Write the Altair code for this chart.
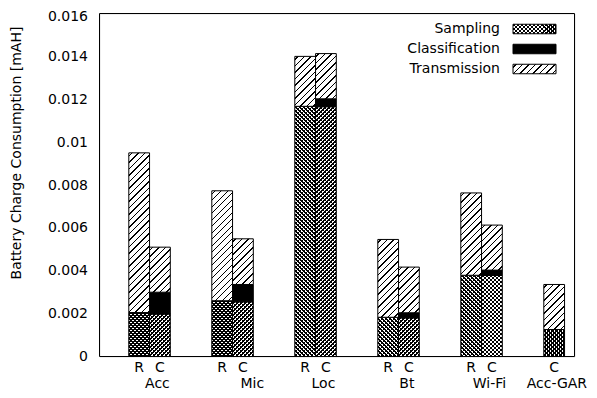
import altair as alt
import pandas as pd

# ---------------- data ----------------
groups = ["Acc", "Mic", "Loc", "Bt", "Wi-Fi", "Acc-GAR"]
bar_group = ["Acc", "Acc", "Mic", "Mic", "Loc", "Loc", "Bt", "Bt", "Wi-Fi", "Wi-Fi", "Acc-GAR"]
bar_kind = ["R", "C", "R", "C", "R", "C", "R", "C", "R", "C", "C"]
sampling = [0.00205, 0.00198, 0.0026, 0.00255, 0.01167, 0.01165, 0.00183, 0.0018, 0.00379, 0.00378, 0.00126]
classification = [0.0, 0.00102, 0.0, 0.00081, 0.0, 0.00037, 0.0, 0.00024, 0.0, 0.00025, 0.0]
transmission = [0.00745, 0.0021, 0.00513, 0.00213, 0.00233, 0.00211, 0.00363, 0.00213, 0.00384, 0.0021, 0.0021]
series = ["Sampling", "Classification", "Transmission"]
y_ticks = [0, 0.002, 0.004, 0.006, 0.008, 0.01, 0.012, 0.014, 0.016]
y_title = "Battery Charge Consumption [mAH]"

# ---------------- layout / style ----------------
W, H = 475, 343
YMAX = 0.016
UNIT = 20.75                      # pixels per bar slot
X0 = -29.3 / UNIT
X1 = X0 + W / UNIT
FONT = "DejaVu Sans"
FS = 14
group_label_offset = [1.38, 1.95, 1.38, 1.4, 1.38, 0.63]


def hatch(w, h, direction, period, thick, bg, fg="black"):
    total = w + h
    k = (w + h) / (w * w + h * h)
    if direction == "/":
        x1, y1, x2, y2 = 0, 0, w * k, h * k
    else:
        x1, y1, x2, y2 = 0, 1, w * k, 1 - h * k
    stops = [{"offset": 0, "color": bg}]
    c = period / 2
    while c - thick / 2 < total:
        a = round(max(0.0, (c - thick / 2) / total), 5)
        b = round(min(1.0, (c + thick / 2) / total), 5)
        stops += [{"offset": a, "color": bg}, {"offset": a, "color": fg},
                  {"offset": b, "color": fg}, {"offset": b, "color": bg}]
        c += period
    stops.append({"offset": 1, "color": bg})
    return {"gradient": "linear", "x1": round(x1, 5), "y1": round(y1, 5),
            "x2": round(x2, 5), "y2": round(y2, 5), "stops": stops}


WHITE = "white"
CLEAR = "rgba(255,255,255,0)"

# slots
slots = []
for i, g in enumerate(bar_group):
    gi = groups.index(g)
    pos = bar_group[:i].count(g)
    slots.append(4 * gi + pos)

rows = []
for i in range(len(bar_group)):
    s, c, t = sampling[i], classification[i], transmission[i]
    rows.append(dict(bar=i, seg="Sampling", lo=0.0, hi=s, x0=slots[i], x1=slots[i] + 1))
    if c > 0:
        rows.append(dict(bar=i, seg="Classification", lo=s, hi=s + c, x0=slots[i], x1=slots[i] + 1))
    rows.append(dict(bar=i, seg="Transmission", lo=s + c, hi=s + c + t, x0=slots[i], x1=slots[i] + 1))
segs = pd.DataFrame(rows)

xscale = alt.Scale(domain=[X0, X1], nice=False, zero=False)
yscale = alt.Scale(domain=[0, YMAX], nice=False)
yaxis = alt.Axis(values=y_ticks, format="~f", grid=False, ticks=False, tickSize=0, domain=False,
                 labelFont=FONT, labelFontSize=FS, labelColor="black", labelPadding=12,
                 labelOffset={"condition": {"test": "datum.value >= 0.0159", "value": 2.5}, "value": 0},
                 title=y_title, titleFont=FONT, titleFontSize=FS, titleFontWeight="normal",
                 titleColor="black", titleAngle=270, titleAlign="center", titleBaseline="middle",
                 titleX=-83, titleY=139)

layers = []
bar_w = UNIT
for _, r in segs.iterrows():
    h = (r.hi - r.lo) * H / YMAX
    base = alt.Chart(segs).transform_filter(
        (alt.datum.bar == int(r.bar)) & (alt.datum.seg == r.seg)
    )
    enc = dict(x=alt.X("x0:Q", scale=xscale, axis=None), x2="x1:Q",
               y=alt.Y("lo:Q", scale=yscale, axis=yaxis), y2="hi:Q")
    if r.seg == "Sampling":
        layers.append(base.mark_rect(fill=hatch(bar_w, h, "/", 4, 1.5, WHITE)).encode(**enc))
        layers.append(base.mark_rect(fill=hatch(bar_w, h, "\\", 4, 1.5, CLEAR),
                                     stroke="black", strokeWidth=1).encode(**enc))
    elif r.seg == "Classification":
        layers.append(base.mark_rect(fill="black", stroke="black", strokeWidth=1).encode(**enc))
    else:
        layers.append(base.mark_rect(fill=hatch(bar_w, h, "/", 6.5, 1.3, WHITE),
                                     stroke="black", strokeWidth=1).encode(**enc))

# x labels: R / C
bars_df = pd.DataFrame({"kind": bar_kind, "xc": [s + 0.5 for s in slots]})
layers.append(alt.Chart(bars_df).mark_text(font=FONT, fontSize=FS, color="black",
                                           baseline="middle", align="center").encode(
    x=alt.X("xc:Q", scale=xscale, axis=None), y=alt.value(354.5), text="kind:N"))

grp_df = pd.DataFrame({"name": groups,
                       "gx": [4 * i + group_label_offset[i] for i in range(len(groups))]})
layers.append(alt.Chart(grp_df).mark_text(font=FONT, fontSize=FS, color="black",
                                          baseline="middle", align="center").encode(
    x=alt.X("gx:Q", scale=xscale, axis=None), y=alt.value(370.5), text="name:N"))

# legend
leg_x0, leg_x1 = 413.5, 456.5
sw_h = 9.5
leg_df = pd.DataFrame({"name": series, "yc": [15.5 + 20 * k for k in range(len(series))]})
layers.append(alt.Chart(leg_df).mark_text(font=FONT, fontSize=FS, color="black",
                                          baseline="middle", align="right").encode(
    x=alt.value(400.5), y=alt.Y("yc:Q", scale=None), text="name:N"))
for k, name in enumerate(series):
    yc = 15.5 + 20 * k
    sw = alt.Chart(leg_df).transform_filter(alt.datum.name == name)
    enc = dict(x=alt.value(leg_x0), x2=alt.value(leg_x1), y=alt.value(yc - sw_h / 2), y2=alt.value(yc + sw_h / 2))
    if name == "Sampling":
        layers.append(sw.mark_rect(fill=hatch(leg_x1 - leg_x0, sw_h, "/", 4, 1.5, WHITE)).encode(**enc))
        layers.append(sw.mark_rect(fill=hatch(leg_x1 - leg_x0, sw_h, "\\", 4, 1.5, CLEAR),
                                   stroke="black", strokeWidth=1).encode(**enc))
    elif name == "Classification":
        layers.append(sw.mark_rect(fill="black", stroke="black", strokeWidth=1).encode(**enc))
    else:
        layers.append(sw.mark_rect(fill=hatch(leg_x1 - leg_x0, sw_h, "/", 6.5, 1.3, WHITE),
                                   stroke="black", strokeWidth=1).encode(**enc))

# plot frame
layers.append(alt.Chart(leg_df.head(1)).mark_rect(fill="white", fillOpacity=0, stroke="black",
                                                  strokeWidth=1).encode(
    x=alt.value(0), x2=alt.value(W), y=alt.value(0), y2=alt.value(H)))

chart = alt.layer(*layers).properties(
    width=W, height=H,
    autosize=alt.AutoSizeParams(type="none"),
    padding={"left": 91.5, "top": 5.5, "right": 13.5, "bottom": 34},
).configure_view(stroke=None, fill="white").configure(background="white")

chart.save("out.html", embed_options={"renderer": "svg", "actions": False})
